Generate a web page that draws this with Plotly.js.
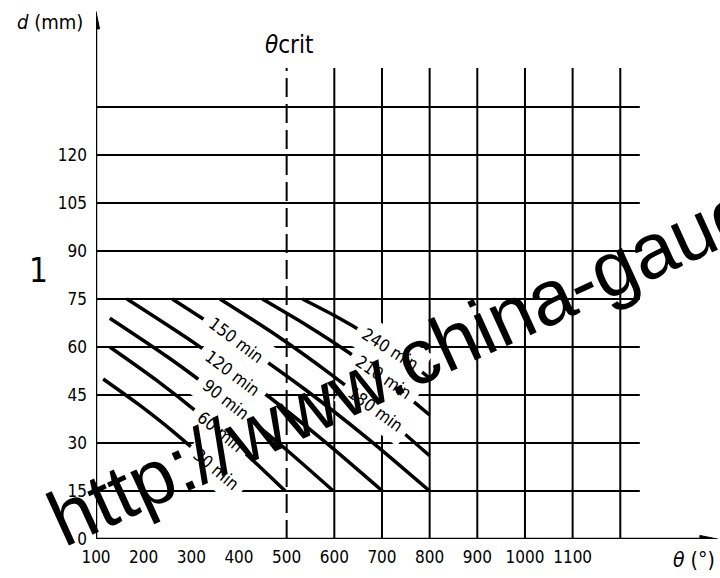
<!DOCTYPE html>
<html><head><meta charset="utf-8">
<script src="https://cdn.plot.ly/plotly-3.0.1.min.js"></script>
<style>html,body{margin:0;padding:0;background:#fff;}</style>
</head><body>
<div id="chart" style="width:720px;height:578px;"></div>
<script>
// ---- data (theta in °C, d in mm) ----
const curveNames = ["30 min","60 min","90 min","120 min","150 min","180 min","210 min","240 min"];
const theta30  = [115, 188, 260, 331, 398];
const d30      = [50, 42.2, 33.8, 24.6, 15];
const theta60  = [129, 226, 320, 410, 497];
const d60      = [60, 49.7, 38.7, 27.2, 15];
const theta90  = [129, 252, 371, 486, 598];
const d90      = [69, 56.7, 43.5, 29.6, 15];
const theta120 = [165, 306, 442, 573, 701];
const d120     = [75, 61.3, 46.8, 31.3, 15];
const theta150 = [260, 401, 538, 671, 800];
const d150     = [75, 61.3, 46.8, 31.3, 15];
const theta180 = [360, 476, 588, 697, 800];
const d180     = [75, 63.9, 52, 39.3, 26];
const theta210 = [449, 541, 631, 718, 800];
const d210     = [75, 66.9, 58.2, 48.8, 38.75];
const theta240 = [533, 603, 671, 738, 800];
const d240     = [75, 69.6, 63.7, 57.3, 50.3];
const xTicks = [100,200,300,400,500,600,700,800,900,1000,1100];
const yTicks = [0,15,30,45,60,75,90,105,120];
const xGridVals = [600,700,800,900,1000,1100,1200];
const yGridVals = [15,30,45,60,75,90,105,120,135];
const thetaCrit = 500;

const curvesTheta = [theta30,theta60,theta90,theta120,theta150,theta180,theta210,theta240];
const curvesD = [d30,d60,d90,d120,d150,d180,d210,d240];

// ---- label placement (layout only) ----
const labelPos = [
  {x:352,y:22.0,a:40},{x:362,y:33.5,a:39},{x:371,y:43.6,a:38},{x:386,y:51.8,a:37},
  {x:394,y:62.2,a:37},{x:686,y:40.6,a:36},{x:703,y:50.5,a:34},{x:717,y:59.4,a:32}
];

const FONT = "'DejaVu Sans Condensed','DejaVu Sans',sans-serif";
const BLK = '#000';

const traces = curvesTheta.map((tx,i)=>({
  type:'scatter', mode:'lines', x:tx, y:curvesD[i], name:curveNames[i],
  line:{color:BLK,width:3.5,shape:'spline',smoothing:0.8}, hoverinfo:'skip'
}));

const X0 = 100, XMAX = 1405, YMAX = 165.3;
const shapes = [];
const gridTop = 147.2, gridRight = 1241;
yGridVals.forEach(v=>shapes.push({type:'line',xref:'x',yref:'y',x0:X0,x1:gridRight,y0:v,y1:v,line:{color:BLK,width:2},layer:'below'}));
xGridVals.forEach(v=>shapes.push({type:'line',xref:'x',yref:'y',x0:v,x1:v,y0:0,y1:gridTop,line:{color:BLK,width:2},layer:'below'}));
shapes.push({type:'line',xref:'x',yref:'y',x0:thetaCrit,x1:thetaCrit,y0:0,y1:gridTop,line:{color:BLK,width:2,dash:'19px,7px'},layer:'below'});
// axes with arrowheads
shapes.push({type:'line',xref:'x',yref:'y',x0:X0,x1:1380,y0:0,y1:0,line:{color:BLK,width:2.5}});
shapes.push({type:'line',xref:'x',yref:'y',x0:X0,x1:X0,y0:0,y1:160,line:{color:BLK,width:2.5}});
shapes.push({type:'path',xref:'x',yref:'y',
  path:'M1367,-1.1 L1404,0 L1367,1.1 Z',fillcolor:BLK,line:{color:BLK,width:1}});
shapes.push({type:'path',xref:'x',yref:'y',
  path:'M92.6,159.4 L100,164.8 L107.4,159.4 Z',fillcolor:BLK,line:{color:BLK,width:1}});

const annotations = labelPos.map((p,i)=>({
  x:p.x,y:p.y,xref:'x',yref:'y',text:curveNames[i],showarrow:false,textangle:p.a,
  xanchor:'center',yanchor:'middle',
  font:{family:FONT,size:17,color:BLK},bgcolor:'#fff',borderpad:7
}));
const txt = (x,y,t,size,extra)=>Object.assign({xref:'paper',yref:'paper',x:x,y:y,text:t,showarrow:false,
  xanchor:'center',yanchor:'middle',font:{family:FONT,size:size,color:BLK}},extra||{});
annotations.push(txt(0.31,0.934,'<i>θ</i>crit',24));
annotations.push(txt(-0.074,0.977,'<i>d</i> (mm)',20));
annotations.push(txt(0.961,-0.0397,'<i>θ</i> (°)',21));
annotations.push(txt(-0.0932,0.5085,'1',33));
annotations.push({xref:'paper',yref:'paper',x:0.6756,y:0.4284,text:'http://www.china-gauges.com',showarrow:false,
  xanchor:'center',yanchor:'middle',
  textangle:-24.5,font:{family:"'Liberation Sans',Arial,sans-serif",size:78,color:BLK}});

const layout = {
  width:720,height:578,margin:{l:96,r:2,t:10,b:39},
  paper_bgcolor:'#fff',plot_bgcolor:'#fff',showlegend:false,
  xaxis:{range:[X0,XMAX],showgrid:false,zeroline:false,showline:false,ticks:'',
    tickvals:xTicks,ticktext:xTicks.map(String),ticklabelstandoff:6,
    tickfont:{family:FONT,size:17,color:BLK},fixedrange:true},
  yaxis:{range:[0,YMAX],showgrid:false,zeroline:false,showline:false,ticks:'',
    tickvals:yTicks,ticktext:yTicks.map(String),ticklabelstandoff:8,
    tickfont:{family:FONT,size:17,color:BLK},fixedrange:true},
  shapes:shapes,annotations:annotations
};
Plotly.newPlot('chart',traces,layout,{displayModeBar:false,staticPlot:true});
</script>
</body></html>
